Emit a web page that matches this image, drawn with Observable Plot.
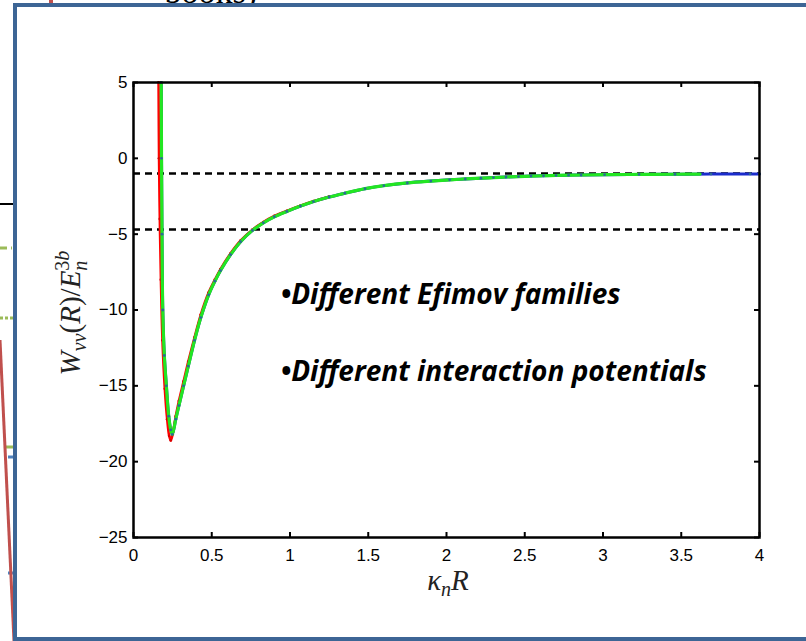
<!DOCTYPE html>
<html>
<head>
<meta charset="utf-8">
<script src="https://cdn.jsdelivr.net/npm/d3@7"></script>
<script src="https://cdn.jsdelivr.net/npm/@observablehq/plot@0.6"></script>
<style>
  html, body { margin: 0; padding: 0; background: #fff; }
  #slide { position: relative; width: 806px; height: 641px; overflow: hidden; background: #fff; }
  #backdrop { position: absolute; left: 0; top: 0; }
  #panel { position: absolute; left: 13px; top: 3px; width: 800px; height: 630px;
           border: 4px solid #3d6595; border-right: none; background: #fff; }
  #chart { position: absolute; left: 0; top: 0; }
</style>
</head>
<body>
<div id="slide">
  <!-- pieces of the slide behind the panel -->
  <svg id="backdrop" width="806" height="641">
    <text x="128" y="3" font-family="Liberation Serif" font-size="34" fill="#000">✓ books)</text>
    <line x1="51" y1="0" x2="51" y2="4" stroke="#c0504d" stroke-width="4"/>
    <line x1="0" y1="204" x2="14" y2="204" stroke="#000" stroke-width="2"/>
    <line x1="0" y1="248" x2="12" y2="248" stroke="#9bbb59" stroke-width="3" stroke-dasharray="7,4"/>
    <line x1="0" y1="318" x2="13" y2="318" stroke="#9bbb59" stroke-width="3" stroke-dasharray="3,2"/>
    <line x1="6" y1="447" x2="14" y2="447" stroke="#9bbb59" stroke-width="3"/>
    <line x1="8" y1="457" x2="14" y2="457" stroke="#4f81bd" stroke-width="3"/>
    <line x1="8" y1="573" x2="14" y2="573" stroke="#4f81bd" stroke-width="3"/>
    <path d="M0,340 Q6,480 14,641" fill="none" stroke="#c0504d" stroke-width="3"/>
  </svg>
  <div id="panel"></div>
  <div id="chart"></div>
</div>
<script>
// axis ticks
const xTicks = [0, 0.5, 1, 1.5, 2, 2.5, 3, 3.5, 4];
const yTicks = [-25, -20, -15, -10, -5, 0, 5];

// dashed reference levels
const thresholds = [-1, -4.7];

// blue series (line with dot markers)
const blueR = [0.177, 0.179, 0.182, 0.187, 0.197, 0.210, 0.225, 0.238, 0.248, 0.27, 0.29, 0.32, 0.35, 0.39, 0.43, 0.48, 0.52, 0.556, 0.62, 0.684, 0.76, 0.83, 0.90, 0.98, 1.067, 1.15, 1.25, 1.35, 1.48, 1.6, 1.75, 1.9, 2.02, 2.12, 2.22, 2.3, 2.38, 2.46, 2.54, 2.62, 2.7, 2.78, 2.86, 3.01, 3.23, 3.46, 3.69, 3.94, 4.0];
const blueW = [5, 0, -5, -10, -13, -15, -17, -17.9, -18.2, -17.2, -16.3, -15.0, -13.7, -12.0, -10.5, -9.0, -8.1, -7.4, -6.35, -5.5, -4.75, -4.25, -3.85, -3.5, -3.15, -2.85, -2.55, -2.3, -2.0, -1.8, -1.62, -1.5, -1.42, -1.36, -1.31, -1.27, -1.23, -1.2, -1.17, -1.15, -1.13, -1.11, -1.1, -1.08, -1.06, -1.05, -1.04, -1.03, -1.03];

// green series
const greenR = [0.177, 0.179, 0.182, 0.187, 0.197, 0.210, 0.225, 0.238, 0.248, 0.27, 0.29, 0.32, 0.35, 0.39, 0.43, 0.48, 0.52, 0.556, 0.62, 0.684, 0.76, 0.83, 0.90, 0.98, 1.067, 1.15, 1.25, 1.35, 1.48, 1.6, 1.75, 1.9, 2.02, 2.12, 2.22, 2.3, 2.38, 2.46, 2.54, 2.62, 2.7, 2.78, 2.86, 3.01, 3.23, 3.46, 3.62];
const greenW = [5, 0, -5, -10, -13, -15, -17, -17.9, -18.2, -17.2, -16.3, -15.0, -13.7, -12.0, -10.5, -9.0, -8.1, -7.4, -6.35, -5.5, -4.75, -4.25, -3.85, -3.5, -3.15, -2.85, -2.55, -2.3, -2.0, -1.8, -1.62, -1.5, -1.42, -1.36, -1.31, -1.27, -1.23, -1.2, -1.17, -1.15, -1.13, -1.11, -1.1, -1.08, -1.06, -1.05, -1.04];

// red series
const redR = [0.160, 0.163, 0.168, 0.175, 0.185, 0.200, 0.215, 0.228, 0.238, 0.250, 0.27, 0.29, 0.32, 0.35, 0.39, 0.43, 0.48, 0.52, 0.556, 0.62, 0.684, 0.76, 0.83, 0.90, 0.98, 1.067, 1.15, 1.25];
const redW = [5, 0, -4, -8, -12, -15.2, -17.2, -18.3, -18.6, -18.2, -17.0, -16.0, -14.7, -13.4, -11.8, -10.3, -8.85, -8.0, -7.3, -6.27, -5.43, -4.7, -4.2, -3.8, -3.46, -3.12, -2.83, -2.53];

// bullet notes on the plot
const notes = ["•Different Efimov families", "•Different interaction potentials"];
const noteLevels = [-9.6, -14.7];

const pts = (xs, ys) => xs.map((x, i) => ({x, y: ys[i]}));
const blue = pts(blueR, blueW);
const green = pts(greenR, greenW);
const red = pts(redR, redW);
const noteRows = notes.map((t, i) => ({t, y: noteLevels[i]}));

const W = 806, H = 641;
const mL = 133, mR = 47, mT = 82, mB = 104;
const innerH = H - mT - mB, innerW = W - mL - mR;
const tick = 5;
const fmt = d => (d < 0 ? "\u2212" + Math.abs(d) : String(d));

const chart = Plot.plot({
  width: W,
  height: H,
  marginLeft: mL,
  marginRight: mR,
  marginTop: mT,
  marginBottom: mB,
  style: {background: "transparent", fontFamily: "'Liberation Sans', Arial, sans-serif", fontSize: "17px", color: "#000", overflow: "visible"},
  x: {domain: [0, 4], ticks: xTicks, tickSize: 0, tickPadding: 11, tickFormat: fmt, label: null},
  y: {domain: [-25, 5], ticks: yTicks, tickSize: 0, tickPadding: 6, tickFormat: fmt, label: null},
  marks: [
    Plot.ruleY(thresholds, {stroke: "#000", strokeWidth: 2.5, strokeDasharray: "7,5"}),
    Plot.line(blue, {x: "x", y: "y", stroke: "#1a2ccc", strokeWidth: 3, curve: "catmull-rom"}),
    Plot.line(red, {x: "x", y: "y", stroke: "#ff0000", strokeWidth: 2.5, curve: "catmull-rom"}),
    Plot.dot(red, {x: "x", y: "y", r: 1.4, fill: "#d80000"}),
    Plot.line(green, {x: "x", y: "y", stroke: "#22e622", strokeWidth: 3.2, curve: "catmull-rom"}),
    Plot.dot(blue, {x: "x", y: "y", r: 1.4, fill: "#2a6a96"}),
    // inward tick marks on all four sides
    Plot.ruleX(xTicks, {x: d => d, insetTop: innerH - tick, stroke: "#000", strokeWidth: 2}),
    Plot.ruleX(xTicks, {x: d => d, insetBottom: innerH - tick, stroke: "#000", strokeWidth: 2}),
    Plot.ruleY(yTicks, {y: d => d, insetRight: innerW - tick, stroke: "#000", strokeWidth: 2}),
    Plot.ruleY(yTicks, {y: d => d, insetLeft: innerW - tick, stroke: "#000", strokeWidth: 2}),
    Plot.frame({stroke: "#000", strokeWidth: 2.5}),
    Plot.text(noteRows, {
      x: () => 0.94, y: "y", text: "t",
      textAnchor: "start", lineAnchor: "bottom",
      fontFamily: "'Open Sans', Lato, sans-serif", fontWeight: "bold", fontStyle: "italic",
      fontSize: 28, fill: "#000"
    })
  ]
});
document.getElementById("chart").append(chart);

// math-style axis titles
const svg = d3.select(chart);
const serif = "'Liberation Serif', 'Times New Roman', serif";

const yl = svg.append("text")
  .attr("transform", "translate(80,313) rotate(-90)")
  .attr("text-anchor", "middle")
  .attr("font-family", serif)
  .attr("font-size", 29)
  .attr("fill", "#222");
yl.append("tspan").attr("font-style", "italic").text("W");
yl.append("tspan").attr("font-style", "italic").attr("font-size", 20).attr("dy", 6).text("νν");
yl.append("tspan").attr("dy", -6).text("(");
yl.append("tspan").attr("font-style", "italic").text("R");
yl.append("tspan").text(")/");
yl.append("tspan").attr("font-style", "italic").text("E");
yl.append("tspan").attr("font-style", "italic").attr("font-size", 20).attr("dy", 7).text("n");
yl.append("tspan").attr("font-size", 20).attr("dx", -10).attr("dy", -18).text("3");
yl.append("tspan").attr("font-style", "italic").attr("font-size", 20).text("b");

const xl = svg.append("text")
  .attr("x", 448).attr("y", 590)
  .attr("text-anchor", "middle")
  .attr("font-family", serif)
  .attr("font-size", 29)
  .attr("fill", "#222");
xl.append("tspan").attr("font-style", "italic").text("κ");
xl.append("tspan").attr("font-style", "italic").attr("font-size", 20).attr("dy", 6).text("n");
xl.append("tspan").attr("font-style", "italic").attr("dy", -6).text("R");
</script>
</body>
</html>
